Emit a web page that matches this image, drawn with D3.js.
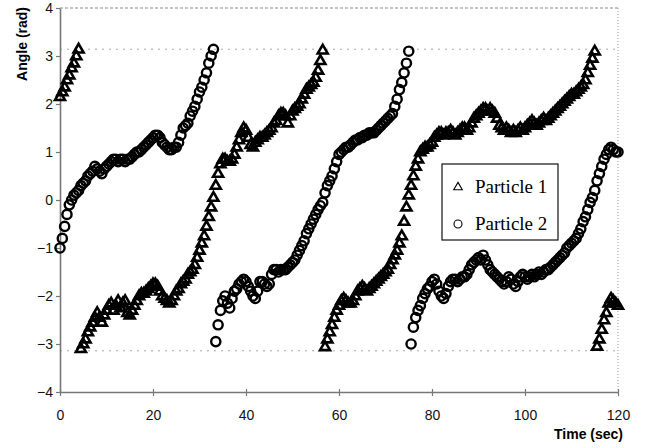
<!DOCTYPE html>
<html>
<head>
<meta charset="utf-8">
<script src="https://cdn.jsdelivr.net/npm/d3@7"></script>
<style>
body { margin: 0; background: #fff; }
svg { display: block; }
.tick text { font-family: "Liberation Sans", Arial, sans-serif; font-size: 14px; fill: #111; }
</style>
</head>
<body>
<div id="chart"></div>
<script>
// axis ticks
const xTicks = [0, 20, 40, 60, 80, 100, 120];
const yTicks = [-4, -3, -2, -1, 0, 1, 2, 3, 4];
const seriesNames = ["Particle 1", "Particle 2"];

// angle samples, one every half second from t = 0 to 120
const sampleStep = 0.5;
const particle1 = [
    2.15, 2.25, 2.35, 2.5, 2.6, 2.75, 2.85, 3.0, 3.14, -3.1, -3.0, -2.9, -2.75, -2.65, -2.55, -2.45, -2.35, -2.45, -2.55, -2.4,
    -2.3, -2.2, -2.15, -2.3, -2.2, -2.1, -2.25, -2.15, -2.1, -2.35, -2.4, -2.3, -2.2, -2.1, -2.0, -1.95, -1.95, -1.9, -1.85, -1.8,
    -1.75, -1.75, -1.8, -1.9, -2.0, -2.05, -2.1, -2.15, -2.1, -2.0, -1.9, -1.85, -1.75, -1.7, -1.65, -1.55, -1.5, -1.45, -1.35, -1.2,
    -1.05, -0.9, -0.75, -0.55, -0.35, -0.15, 0.05, 0.3, 0.55, 0.75, 0.85, 0.85, 0.8, 0.8, 0.85, 0.95, 1.1, 1.25, 1.4, 1.5,
    1.45, 1.3, 1.15, 1.1, 1.2, 1.25, 1.3, 1.3, 1.35, 1.4, 1.45, 1.5, 1.6, 1.65, 1.75, 1.8, 1.8, 1.75, 1.6, 1.75,
    1.85, 1.9, 1.95, 2.0, 2.1, 2.2, 2.3, 2.35, 2.4, 2.45, 2.55, 2.7, 2.9, 3.12, -3.06, -2.9, -2.75, -2.6, -2.45, -2.3,
    -2.2, -2.1, -2.05, -2.1, -2.15, -2.15, -2.1, -2.0, -1.9, -1.85, -1.8, -1.85, -1.9, -1.85, -1.8, -1.75, -1.7, -1.65, -1.6, -1.55,
    -1.5, -1.45, -1.35, -1.25, -1.15, -1.05, -0.9, -0.75, -0.45, -0.15, 0.1, 0.3, 0.5, 0.7, 0.85, 1.0, 1.05, 1.1, 1.1, 1.15,
    1.2, 1.3, 1.35, 1.4, 1.4, 1.35, 1.4, 1.4, 1.45, 1.4, 1.35, 1.4, 1.45, 1.5, 1.5, 1.45, 1.5, 1.6, 1.7, 1.75,
    1.8, 1.85, 1.9, 1.9, 1.85, 1.9, 1.85, 1.8, 1.7, 1.55, 1.5, 1.45, 1.5, 1.45, 1.4, 1.45, 1.4, 1.45, 1.5, 1.45,
    1.5, 1.55, 1.6, 1.65, 1.6, 1.55, 1.6, 1.65, 1.7, 1.65, 1.7, 1.75, 1.8, 1.85, 1.9, 1.95, 2.0, 2.05, 2.1, 2.15,
    2.2, 2.2, 2.25, 2.3, 2.35, 2.4, 2.5, 2.65, 2.8, 2.95, 3.1, -3.05, -2.9, -2.7, -2.5, -2.35, -2.15, -2.05, -2.1, -2.15,
    -2.2
];
const particle2 = [
    -1.0, -0.8, -0.55, -0.3, -0.1, 0.0, 0.1, 0.15, 0.2, 0.3, 0.35, 0.4, 0.5, 0.55, 0.6, 0.7, 0.65, 0.6, 0.55, 0.65,
    0.7, 0.75, 0.8, 0.85, 0.85, 0.8, 0.85, 0.85, 0.8, 0.85, 0.85, 0.9, 0.95, 1.0, 1.0, 1.05, 1.1, 1.15, 1.2, 1.25,
    1.3, 1.35, 1.35, 1.3, 1.2, 1.15, 1.1, 1.05, 1.05, 1.1, 1.1, 1.2, 1.35, 1.5, 1.55, 1.6, 1.75, 1.85, 1.95, 2.1,
    2.25, 2.35, 2.5, 2.65, 2.85, 3.0, 3.14, -2.95, -2.6, -2.3, -2.1, -2.0, -2.15, -2.25, -2.05, -1.9, -1.85, -1.75, -1.7, -1.65,
    -1.7, -1.8, -1.9, -2.0, -2.05, -1.9, -1.7, -1.7, -1.75, -1.8, -1.75, -1.55, -1.45, -1.45, -1.5, -1.45, -1.45, -1.45, -1.4, -1.35,
    -1.3, -1.25, -1.15, -1.05, -0.95, -0.85, -0.7, -0.6, -0.5, -0.4, -0.3, -0.2, -0.12, -0.05, 0.15, 0.3, 0.4, 0.5, 0.65, 0.8,
    0.95, 1.0, 1.05, 1.1, 1.1, 1.15, 1.2, 1.25, 1.25, 1.3, 1.3, 1.35, 1.35, 1.4, 1.4, 1.4, 1.45, 1.5, 1.55, 1.6,
    1.65, 1.7, 1.75, 1.8, 1.95, 2.1, 2.3, 2.45, 2.65, 2.85, 3.1, -3.0, -2.65, -2.45, -2.3, -2.2, -2.05, -1.95, -1.85, -1.8,
    -1.7, -1.65, -1.75, -1.9, -2.0, -2.05, -1.95, -1.8, -1.7, -1.65, -1.65, -1.7, -1.65, -1.6, -1.6, -1.55, -1.45, -1.35, -1.3, -1.25,
    -1.2, -1.25, -1.15, -1.25, -1.35, -1.45, -1.5, -1.55, -1.6, -1.65, -1.7, -1.75, -1.7, -1.6, -1.65, -1.75, -1.8, -1.7, -1.6, -1.55,
    -1.6, -1.65, -1.6, -1.55, -1.6, -1.55, -1.5, -1.55, -1.5, -1.45, -1.45, -1.4, -1.35, -1.3, -1.25, -1.2, -1.15, -1.1, -1.0, -0.95,
    -0.9, -0.85, -0.8, -0.7, -0.6, -0.45, -0.35, -0.2, -0.05, 0.05, 0.2, 0.4, 0.55, 0.7, 0.85, 0.95, 1.05, 1.1, 1.05, 1.0,
    1.0
];

const config = { width: 645, height: 448, left: 60, top: 8, plotW: 558, plotH: 384 };

const trianglePath = "M0,-5.4L5,3.2L-5,3.2Z";
const circleR = 4.6;

const svg = d3.select("#chart")
    .append("svg")
    .attr("width", config.width)
    .attr("height", config.height);

const g = svg.append("g")
    .attr("transform", `translate(${config.left},${config.top})`);

const x = d3.scaleLinear().domain([0, 120]).range([0, config.plotW]);
const y = d3.scaleLinear().domain([-4, 4]).range([config.plotH, 0]);

// light dashed lines at +/- pi, dashed top border, dotted right border
g.selectAll("line.pi")
    .data([Math.PI, -Math.PI])
    .join("line")
    .attr("class", "pi")
    .attr("x1", 0).attr("x2", config.plotW)
    .attr("y1", d => y(d)).attr("y2", d => y(d))
    .attr("stroke", "#a8a8a8")
    .attr("stroke-width", 1)
    .attr("stroke-dasharray", "2,5");

g.append("line")
    .attr("x1", 0).attr("x2", config.plotW)
    .attr("y1", y(4)).attr("y2", y(4))
    .attr("stroke", "#8a8a8a")
    .attr("stroke-width", 1.2)
    .attr("stroke-dasharray", "3,2");

g.append("line")
    .attr("x1", x(120)).attr("x2", x(120))
    .attr("y1", y(4)).attr("y2", y(-4))
    .attr("stroke", "#999")
    .attr("stroke-width", 1)
    .attr("stroke-dasharray", "1,2");

// axes
const yAxis = d3.axisLeft(y).tickValues(yTicks).tickSize(4).tickSizeOuter(0).tickPadding(3);
const xAxis = d3.axisBottom(x).tickValues(xTicks).tickSize(4).tickSizeOuter(0).tickPadding(14);

const yG = g.append("g").attr("class", "y axisLine").call(yAxis);
const xG = g.append("g").attr("class", "x axisLine")
    .attr("transform", `translate(0,${config.plotH})`)
    .call(xAxis);

[xG, yG].forEach(a => {
    a.select(".domain").attr("stroke", "#777").attr("stroke-width", 1.6);
    a.selectAll(".tick line").attr("stroke", "#777").attr("stroke-width", 1.2);
});
xG.selectAll(".tick line").attr("y1", -3);

// axis titles
svg.append("text")
    .attr("transform", "rotate(-90)")
    .attr("x", -7)
    .attr("y", 27)
    .attr("text-anchor", "end")
    .style("font-family", "'Liberation Sans', Arial, sans-serif")
    .style("font-size", "14px")
    .style("font-weight", "bold")
    .text("Angle (rad)");

svg.append("text")
    .attr("x", 623)
    .attr("y", 439)
    .attr("text-anchor", "end")
    .style("font-family", "'Liberation Sans', Arial, sans-serif")
    .style("font-size", "14px")
    .style("font-weight", "bold")
    .text("Time (sec)");

// markers: open outlines, so overlapping runs pile up into a dark band
const points1 = particle1.map((v, i) => ({ t: i * sampleStep, a: v }));
const points2 = particle2.map((v, i) => ({ t: i * sampleStep, a: v }));

g.append("g").selectAll("path")
    .data(points1)
    .join("path")
    .attr("d", trianglePath)
    .attr("transform", d => `translate(${x(d.t)},${y(d.a)})`)
    .attr("fill", "none")
    .attr("stroke", "#000")
    .attr("stroke-width", 2.6);

g.append("g").selectAll("circle")
    .data(points2)
    .join("circle")
    .attr("cx", d => x(d.t))
    .attr("cy", d => y(d.a))
    .attr("r", circleR)
    .attr("fill", "none")
    .attr("stroke", "#000")
    .attr("stroke-width", 2.4);

// legend
const legend = svg.append("g").attr("transform", "translate(442,164)");
legend.append("rect")
    .attr("width", 116).attr("height", 76)
    .attr("fill", "#fff")
    .attr("stroke", "#111")
    .attr("stroke-width", 1.2);

legend.append("path")
    .attr("d", "M0,-4.6L4.3,2.8L-4.3,2.8Z")
    .attr("transform", "translate(16,23)")
    .attr("fill", "#fff").attr("stroke", "#000").attr("stroke-width", 1.1);
legend.append("circle")
    .attr("cx", 16).attr("cy", 60).attr("r", 4)
    .attr("fill", "#fff").attr("stroke", "#000").attr("stroke-width", 1.1);

legend.selectAll("text")
    .data(seriesNames)
    .join("text")
    .attr("x", 33)
    .attr("y", (d, i) => 29 + i * 37)
    .style("font-family", "'Liberation Serif', 'Times New Roman', serif")
    .style("font-size", "19px")
    .text(d => d);
</script>
</body>
</html>
